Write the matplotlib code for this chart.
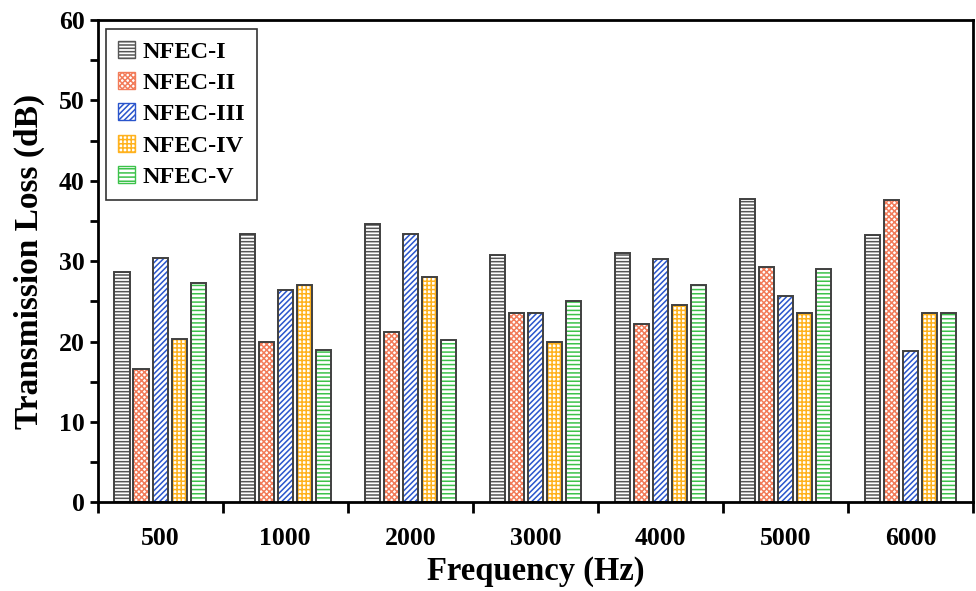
import numpy as np
import matplotlib.pyplot as plt

plt.rcParams['font.family'] = 'Liberation Serif'
plt.rcParams['font.weight'] = 'bold'
plt.rcParams['hatch.linewidth'] = 1.1

frequencies = ['500', '1000', '2000', '3000', '4000', '5000', '6000']
series = ['NFEC-I', 'NFEC-II', 'NFEC-III', 'NFEC-IV', 'NFEC-V']
nfec_1 = [28.6, 33.4, 34.6, 30.8, 31.0, 37.7, 33.3]
nfec_2 = [16.6, 19.9, 21.2, 23.6, 22.2, 29.3, 37.6]
nfec_3 = [30.4, 26.4, 33.4, 23.6, 30.3, 25.7, 18.8]
nfec_4 = [20.3, 27.0, 28.0, 19.9, 24.6, 23.6, 23.6]
nfec_5 = [27.3, 19.0, 20.2, 25.0, 27.1, 29.0, 23.6]
values = [nfec_1, nfec_2, nfec_3, nfec_4, nfec_5]

colors = ['#555555', '#f27c5a', '#2a55cc', '#ffb21e', '#3cc24a']
hatches = ['-----', 'xxxxxx', '//////', '++++', '----']

fig, ax = plt.subplots(figsize=(9.76, 5.91), dpi=100)
fig.subplots_adjust(left=0.1, right=0.997, top=0.966, bottom=0.15)

x = np.arange(len(frequencies))
step = 0.152
width = 0.122
handles = []
for i, (name, vals, c, h) in enumerate(zip(series, values, colors, hatches)):
    pos = x + (i - 2) * step
    ax.bar(pos, vals, width, color='white', edgecolor=c, hatch=h, linewidth=0)
    ax.bar(pos, vals, width, fill=False, edgecolor='#404040', linewidth=1.4)
    handles.append(plt.Rectangle((0, 0), 1, 1, facecolor='white', edgecolor=c,
                                 hatch=h, label=name))

ax.set_xlim(-0.5, len(frequencies) - 0.5)
ax.set_ylim(0, 60)
ax.set_xticks(x)
ax.set_xticklabels(frequencies)
ax.set_xticks(np.arange(-0.5, len(frequencies)), minor=True)
ax.tick_params(axis='x', which='major', length=0, pad=18, labelsize=18.5)
ax.tick_params(axis='x', which='minor', length=8, width=2, direction='out')
ax.set_yticks(np.arange(0, 61, 10))
ax.set_yticks(np.arange(0, 61, 5), minor=True)
ax.tick_params(axis='y', which='both', length=6, width=2, direction='out', labelsize=18.5)

for s in ax.spines.values():
    s.set_linewidth(2)

ax.set_xlabel('Frequency (Hz)', fontsize=23.5, fontweight='bold', labelpad=4)
ax.set_ylabel('Transmission Loss (dB)', fontsize=24, fontweight='bold', labelpad=10)

leg = ax.legend(handles=handles, loc='upper left', fontsize=17.5, frameon=True,
                fancybox=False, edgecolor='black', handlelength=0.7,
                handleheight=0.7, handletextpad=0.3, labelspacing=0.38,
                borderpad=0.5, borderaxespad=0.35)
leg.get_frame().set_linewidth(1.2)

plt.savefig('out.png')
